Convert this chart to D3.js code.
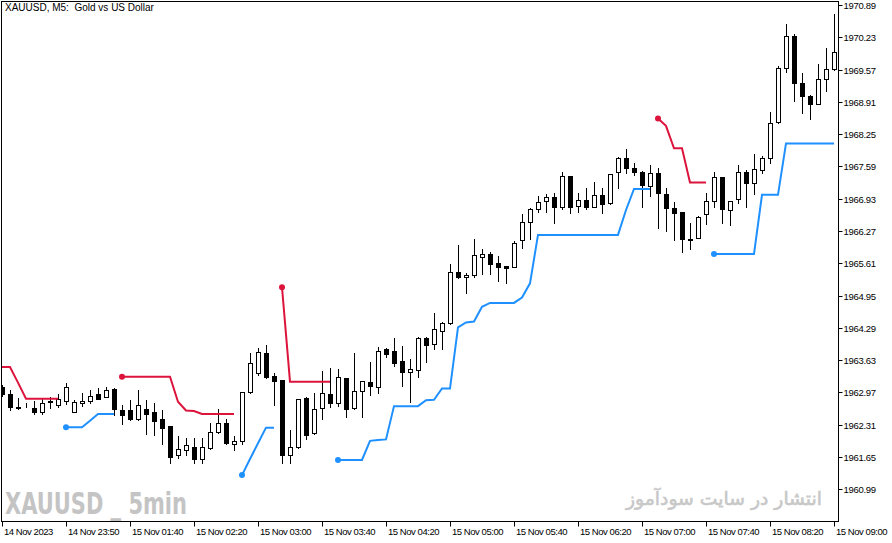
<!DOCTYPE html>
<html>
<head>
<meta charset="utf-8">
<script src="https://cdn.jsdelivr.net/npm/d3@7"></script>
<style>
    html, body { margin: 0; padding: 0; background: #fff; }
    #chart-container { width: 892px; height: 543px; }
    text { font-family: "Liberation Sans", Arial, sans-serif; }
</style>
</head>
<body>
<div id="chart-container"></div>
<script>
const opens = [
    1963.08, 1962.94, 1962.67, 1962.68, 1962.65, 1962.58, 1962.80, 1962.71, 1962.80, 1962.56,
    1962.75, 1962.79, 1962.94, 1962.88, 1963.05, 1962.61, 1962.61, 1962.42, 1962.63, 1962.58,
    1962.43, 1962.28, 1961.69, 1961.79, 1961.85, 1961.60, 1961.83, 1962.16, 1962.34, 1961.91,
    1961.97, 1962.97, 1963.37, 1963.77, 1963.31, 1963.22, 1961.70, 1961.85, 1962.86, 1962.14,
    1962.65, 1962.93, 1962.75, 1963.26, 1962.65, 1962.99, 1963.18, 1963.08, 1963.85, 1963.82,
    1963.61, 1963.39, 1963.43, 1964.08, 1963.96, 1964.23, 1964.38, 1965.43, 1965.32, 1965.38,
    1965.74, 1965.79, 1965.61, 1965.56, 1965.54, 1966.08, 1966.45, 1966.71, 1966.89, 1966.96,
    1966.77, 1967.39, 1966.78, 1966.90, 1966.77, 1967.00, 1966.85, 1967.47, 1967.76, 1967.55,
    1967.48, 1967.18, 1967.45, 1967.03, 1966.75, 1966.66, 1966.10, 1966.13, 1966.61, 1966.89,
    1967.37, 1966.69, 1966.92, 1967.48, 1967.25, 1967.52, 1967.76, 1968.50, 1969.60, 1970.26,
    1969.29, 1969.04, 1968.87, 1969.37, 1969.58
];
const highs = [
    1963.12, 1963.01, 1962.85, 1962.75, 1962.80, 1962.83, 1962.87, 1962.93, 1963.16, 1962.82,
    1962.96, 1963.03, 1963.07, 1963.09, 1963.07, 1962.71, 1962.82, 1963.02, 1962.82, 1962.75,
    1962.61, 1962.29, 1962.07, 1962.04, 1962.03, 1962.04, 1962.35, 1962.63, 1962.43, 1962.08,
    1962.98, 1963.77, 1963.88, 1963.94, 1963.37, 1963.23, 1962.20, 1962.83, 1962.88, 1962.95,
    1963.41, 1963.46, 1963.45, 1963.26, 1963.77, 1963.20, 1963.59, 1963.90, 1963.87, 1964.08,
    1963.92, 1963.65, 1964.10, 1964.11, 1964.59, 1964.42, 1965.59, 1965.98, 1965.42, 1966.11,
    1965.90, 1965.85, 1965.76, 1965.56, 1966.07, 1966.62, 1966.74, 1966.99, 1967.03, 1967.05,
    1967.47, 1967.40, 1967.04, 1967.14, 1967.27, 1967.14, 1967.44, 1967.79, 1967.95, 1967.65,
    1967.50, 1967.62, 1967.55, 1967.14, 1966.86, 1966.66, 1966.44, 1966.57, 1967.04, 1967.48,
    1967.37, 1966.89, 1967.62, 1967.52, 1967.84, 1967.80, 1968.71, 1969.65, 1970.50, 1970.29,
    1969.51, 1969.05, 1969.68, 1970.01, 1970.71
];
const lows = [
    1962.90, 1962.61, 1962.63, 1962.67, 1962.53, 1962.52, 1962.65, 1962.67, 1962.73, 1962.56,
    1962.69, 1962.76, 1962.84, 1962.88, 1962.51, 1962.32, 1962.40, 1962.41, 1962.13, 1962.10,
    1961.92, 1961.52, 1961.62, 1961.69, 1961.53, 1961.52, 1961.82, 1962.15, 1961.91, 1961.79,
    1961.91, 1962.96, 1963.32, 1963.27, 1962.71, 1961.52, 1961.52, 1961.84, 1962.01, 1962.13,
    1962.42, 1962.68, 1962.69, 1962.46, 1962.64, 1962.46, 1962.92, 1962.95, 1963.70, 1963.52,
    1963.11, 1962.77, 1963.29, 1963.60, 1963.86, 1963.86, 1964.36, 1965.30, 1965.01, 1965.34,
    1965.39, 1965.39, 1965.25, 1965.21, 1965.54, 1965.92, 1966.11, 1966.66, 1966.65, 1966.43,
    1966.71, 1966.63, 1966.66, 1966.72, 1966.76, 1966.64, 1966.82, 1967.14, 1967.45, 1967.42,
    1966.77, 1966.99, 1966.34, 1966.28, 1966.09, 1965.85, 1965.90, 1966.13, 1966.41, 1966.77,
    1966.43, 1966.39, 1966.84, 1966.77, 1967.03, 1967.45, 1967.67, 1968.48, 1969.53, 1968.93,
    1968.69, 1968.56, 1968.86, 1969.14, 1969.56
];
const closes = [
    1962.94, 1962.68, 1962.66, 1962.67, 1962.56, 1962.75, 1962.77, 1962.83, 1963.08, 1962.77,
    1962.80, 1962.90, 1962.84, 1963.02, 1962.63, 1962.50, 1962.42, 1962.71, 1962.52, 1962.39,
    1962.24, 1961.66, 1961.81, 1961.89, 1961.60, 1961.85, 1962.16, 1962.35, 1961.93, 1961.97,
    1962.98, 1963.57, 1963.79, 1963.29, 1963.21, 1961.70, 1961.86, 1962.83, 1962.11, 1962.63,
    1962.95, 1962.75, 1963.28, 1962.63, 1962.99, 1963.20, 1963.11, 1963.82, 1963.75, 1963.58,
    1963.38, 1963.45, 1964.08, 1963.93, 1964.26, 1964.38, 1965.43, 1965.32, 1965.37, 1965.77,
    1965.79, 1965.60, 1965.54, 1965.51, 1966.02, 1966.45, 1966.73, 1966.86, 1966.96, 1966.77,
    1967.39, 1966.77, 1966.90, 1966.77, 1967.00, 1966.83, 1967.44, 1967.76, 1967.55, 1967.48,
    1967.22, 1967.45, 1967.04, 1966.75, 1966.64, 1966.11, 1966.09, 1966.56, 1966.89, 1967.37,
    1966.71, 1966.89, 1967.48, 1967.25, 1967.53, 1967.76, 1968.47, 1969.60, 1970.26, 1969.30,
    1969.04, 1968.87, 1969.37, 1969.58, 1969.92
];

// trailing stop above price (down trend), null where inactive
const stopDown = [
    1963.49, 1963.49, 1963.17, 1962.84, 1962.84, 1962.84, 1962.84, 1962.84, null, null,
    null, null, null, null, null, 1963.29, 1963.29, 1963.29, 1963.29, 1963.29,
    1963.29, 1963.29, 1962.78, 1962.60, 1962.59, 1962.53, 1962.53, 1962.53, 1962.53, 1962.53,
    null, null, null, null, null, 1965.12, 1963.19, 1963.19, 1963.19, 1963.19,
    1963.19, 1963.19, null, null, null, null, null, null, null, null,
    null, null, null, null, null, null, null, null, null, null,
    null, null, null, null, null, null, null, null, null, null,
    null, null, null, null, null, null, null, null, null, null,
    null, null, 1968.57, 1968.42, 1967.96, 1967.96, 1967.26, 1967.26, 1967.26, null,
    null, null, null, null, null, null, null, null, null, null,
    null, null, null, null, null
];
// trailing stop below price (up trend)
const stopUp = [
    null, null, null, null, null, null, null, null, 1962.26, 1962.26,
    1962.26, 1962.39, 1962.53, 1962.53, 1962.53, null, null, null, null, null,
    null, null, null, null, null, null, null, null, null, null,
    1961.28, 1961.61, 1961.93, 1962.25, 1962.25, null, null, null, null, null,
    null, null, 1961.59, 1961.59, 1961.59, 1961.59, 1961.98, 1962.00, 1962.01, 1962.69,
    1962.69, 1962.69, 1962.69, 1962.81, 1962.82, 1963.05, 1963.05, 1964.30, 1964.40, 1964.42,
    1964.72, 1964.80, 1964.80, 1964.80, 1964.80, 1964.91, 1965.20, 1966.19, 1966.19, 1966.19,
    1966.19, 1966.19, 1966.19, 1966.19, 1966.19, 1966.19, 1966.19, 1966.19, 1966.70, 1967.13,
    1967.13, 1967.13, null, null, null, null, null, null, null, 1965.80,
    1965.80, 1965.80, 1965.80, 1965.80, 1965.80, 1967.01, 1967.01, 1967.01, 1968.06, 1968.06,
    1968.06, 1968.06, 1968.06, 1968.06, 1968.06
];

const priceTicks = [
    1970.89, 1970.23, 1969.57, 1968.91, 1968.25, 1967.59, 1966.93, 1966.27,
    1965.61, 1964.95, 1964.29, 1963.63, 1962.97, 1962.31, 1961.65, 1960.99
];
const timeTickBars = [0, 8, 16, 24, 32, 40, 48, 56, 64, 72, 80, 88, 96, 104];
const timeLabels = [
    "14 Nov 2023", "14 Nov 23:50", "15 Nov 01:40", "15 Nov 02:20", "15 Nov 03:00",
    "15 Nov 03:40", "15 Nov 04:20", "15 Nov 05:00", "15 Nov 05:40", "15 Nov 06:20",
    "15 Nov 07:00", "15 Nov 07:40", "15 Nov 08:20", "15 Nov 09:00"
];

const chartTitle = "XAUUSD, M5:  Gold vs US Dollar";
const markLeft = "XAUUSD _ 5min";
const markRight = "انتشار در سایت سودآموز";

class CandleChart {
    constructor() {
        this.width = 892;
        this.height = 543;
        this.plot = { left: 1.5, top: 1.5, right: 838.5, bottom: 521.5 };
        this.upColor = "#1E90FF";
        this.downColor = "#DC143C";

        this.candles = opens.map((o, i) => ({
            i, open: o, high: highs[i], low: lows[i], close: closes[i]
        }));

        this.x = d3.scaleLinear().domain([0, opens.length - 1]).range([2, 834]);
        this.y = d3.scaleLinear().domain([1960.99, 1970.89]).range([489.3, 5]);

        this.svg = d3.select("#chart-container").append("svg")
            .attr("width", this.width)
            .attr("height", this.height);

        this.drawFrame();
        this.drawWatermarks();
        this.drawCandles();
        this.drawStops(stopUp, this.upColor);
        this.drawStops(stopDown, this.downColor);
        this.drawAxes();
    }

    drawFrame() {
        const p = this.plot;
        this.svg.append("rect")
            .attr("width", this.width).attr("height", this.height)
            .attr("fill", "#fff");

        this.svg.append("clipPath").attr("id", "plot-clip")
            .append("rect")
            .attr("x", p.left).attr("y", p.top)
            .attr("width", p.right - p.left).attr("height", p.bottom - p.top);

        this.svg.append("text")
            .attr("x", 5).attr("y", 11)
            .style("font-size", "10px")
            .attr("fill", "#000")
            .attr("xml:space", "preserve")
            .text(chartTitle);
    }

    drawWatermarks() {
        this.svg.append("text")
            .attr("x", 5).attr("y", 513.5)
            .attr("textLength", 182)
            .attr("lengthAdjust", "spacingAndGlyphs")
            .style("font-family", "'Liberation Sans Narrow', 'DejaVu Sans Condensed', sans-serif")
            .style("font-weight", "bold")
            .style("font-size", "30px")
            .attr("fill", "#c4c4c4")
            .text(markLeft);

        // slight stroke to thicken the regular Arabic glyphs
        this.svg.append("text")
            .attr("x", 724).attr("y", 505)
            .attr("text-anchor", "middle")
            .style("font-family", "'DejaVu Sans', sans-serif")
            .style("font-size", "18.8px")
            .attr("fill", "#c8c8c8")
            .attr("stroke", "#c8c8c8")
            .attr("stroke-width", 0.6)
            .text(markRight);
    }

    drawCandles() {
        const g = this.svg.append("g").attr("clip-path", "url(#plot-clip)");

        const bars = g.selectAll(".candle")
            .data(this.candles)
            .enter().append("g")
            .attr("class", "candle");

        bars.append("line")
            .attr("x1", d => Math.round(this.x(d.i)) + 0.5)
            .attr("x2", d => Math.round(this.x(d.i)) + 0.5)
            .attr("y1", d => Math.round(this.y(d.high)))
            .attr("y2", d => Math.round(this.y(d.low)) + 1)
            .attr("stroke", "#000")
            .attr("stroke-width", 1);

        bars.append("rect")
            .attr("x", d => Math.round(this.x(d.i)) - 1.5)
            .attr("y", d => Math.round(this.y(Math.max(d.open, d.close))) + 0.5)
            .attr("width", 4)
            .attr("height", d => Math.max(0, Math.round(this.y(Math.min(d.open, d.close))) - Math.round(this.y(Math.max(d.open, d.close)))))
            .attr("fill", d => d.close >= d.open ? "#fff" : "#000")
            .attr("stroke", "#000")
            .attr("stroke-width", 1);
    }

    drawStops(values, color) {
        const g = this.svg.append("g").attr("clip-path", "url(#plot-clip)");

        const line = d3.line()
            .defined(d => d != null)
            .x((d, i) => this.x(i))
            .y(d => this.y(d));

        g.append("path")
            .datum(values)
            .attr("d", line)
            .attr("fill", "none")
            .attr("stroke", color)
            .attr("stroke-width", 2);

        // dot where a new stop segment begins
        const starts = values
            .map((v, i) => ({ i, v }))
            .filter(d => d.v != null && d.i > 0 && values[d.i - 1] == null);

        g.selectAll(".start")
            .data(starts)
            .enter().append("circle")
            .attr("cx", d => this.x(d.i))
            .attr("cy", d => this.y(d.v))
            .attr("r", 3)
            .attr("fill", color);
    }

    drawAxes() {
        const p = this.plot;

        this.svg.append("rect")
            .attr("x", p.left).attr("y", p.top)
            .attr("width", p.right - p.left).attr("height", p.bottom - p.top)
            .attr("fill", "none")
            .attr("stroke", "#000")
            .attr("stroke-width", 1);

        const yAxis = this.svg.append("g");
        priceTicks.forEach(v => {
            const yy = Math.round(this.y(v)) + 0.5;
            yAxis.append("line")
                .attr("x1", p.right).attr("x2", p.right + 4)
                .attr("y1", yy).attr("y2", yy)
                .attr("stroke", "#000");
            yAxis.append("text")
                .attr("x", p.right + 5).attr("y", yy + 3.5)
                .style("font-size", "9.5px")
                .style("letter-spacing", "-0.3px")
                .text(v.toFixed(2));
        });

        const xAxis = this.svg.append("g");
        timeTickBars.forEach((b, k) => {
            const xx = Math.round(this.x(b)) + 0.5;
            xAxis.append("line")
                .attr("x1", xx).attr("x2", xx)
                .attr("y1", p.bottom).attr("y2", p.bottom + 5)
                .attr("stroke", "#000");
            xAxis.append("text")
                .attr("x", xx + 1.5).attr("y", 535)
                .style("font-size", "9.5px")
                .style("letter-spacing", "-0.45px")
                .text(timeLabels[k]);
        });
    }
}

new CandleChart();
</script>
</body>
</html>
